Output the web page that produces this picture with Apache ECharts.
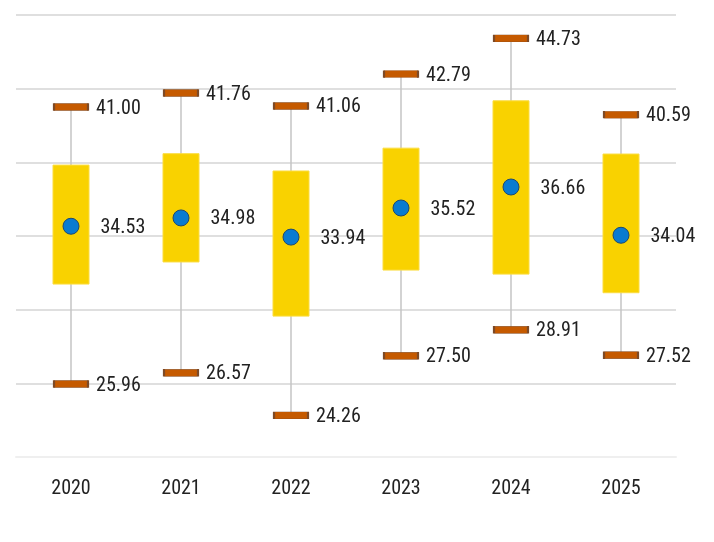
<!DOCTYPE html>
<html>
<head>
<meta charset="utf-8">
<script src="https://cdn.jsdelivr.net/npm/echarts@6/dist/echarts.min.js"></script>
<style>
html,body{margin:0;padding:0;background:#fff;}
#c{width:714px;height:542px;}
</style>
</head>
<body>
<div id="c"></div>
<script>
var categories = ['2020', '2021', '2022', '2023', '2024', '2025'];
var maxVals = [41.00, 41.76, 41.06, 42.79, 44.73, 40.59];
var minVals = [25.96, 26.57, 24.26, 27.50, 28.91, 27.52];
var meanVals = [34.53, 34.98, 33.94, 35.52, 36.66, 34.04];
var q3Vals = [37.85, 38.47, 37.53, 38.77, 41.34, 38.45];
var q1Vals = [31.39, 32.59, 29.65, 32.15, 31.93, 30.92];

var FONT = '"Liberation Sans Narrow", "Roboto Condensed", Roboto, sans-serif';
var TXT = '#222222';

var chart = echarts.init(document.getElementById('c'));

var whiskerData = categories.map(function (c, i) { return [i, minVals[i], maxVals[i]]; });
var boxData = categories.map(function (c, i) { return [i, q1Vals[i], q3Vals[i]]; });

function fmt(p) { return p.value[1].toFixed(2); }

chart.setOption({
  animation: false,
  grid: { left: 16, right: 38, top: 15, bottom: 85 },
  xAxis: {
    type: 'category',
    data: categories,
    axisLine: { show: true, lineStyle: { color: '#efefef', width: 2 } },
    axisTick: { show: false },
    axisLabel: { fontFamily: FONT, fontSize: 20, color: TXT, margin: 22 },
    splitLine: { show: false }
  },
  yAxis: {
    type: 'value',
    min: 22, max: 46, interval: 4,
    axisLine: { show: false },
    axisTick: { show: false },
    axisLabel: { show: false },
    splitLine: { show: true, lineStyle: { color: '#d4d4d4', width: 1.5 } }
  },
  series: [
    {
      type: 'custom',
      name: 'whisker',
      z: 1,
      data: whiskerData,
      renderItem: function (params, api) {
        var lo = api.coord([api.value(0), api.value(1)]);
        var hi = api.coord([api.value(0), api.value(2)]);
        return {
          type: 'line',
          shape: { x1: lo[0], y1: lo[1], x2: hi[0], y2: hi[1] },
          style: { stroke: '#c4c4c4', lineWidth: 1.5 }
        };
      }
    },
    {
      type: 'custom',
      name: 'box',
      z: 2,
      data: boxData,
      renderItem: function (params, api) {
        var lo = api.coord([api.value(0), api.value(1)]);
        var hi = api.coord([api.value(0), api.value(2)]);
        var w = 36;
        return {
          type: 'rect',
          shape: { x: lo[0] - w / 2, y: hi[1], width: w, height: lo[1] - hi[1] },
          style: { fill: '#F9D200', stroke: '#FBDD40', lineWidth: 1 }
        };
      }
    },
    {
      type: 'scatter',
      name: 'max',
      z: 3,
      symbol: 'rect',
      symbolSize: [34, 7],
      itemStyle: { color: '#C55A00', borderColor: '#7d4a26', borderWidth: 1, opacity: 1 },
      data: categories.map(function (c, i) { return [i, maxVals[i]]; }),
      label: { show: true, position: 'right', distance: 7, offset: [0, 1.5], formatter: fmt, fontFamily: FONT, fontSize: 20, color: TXT }
    },
    {
      type: 'scatter',
      name: 'min',
      z: 3,
      symbol: 'rect',
      symbolSize: [34, 7],
      itemStyle: { color: '#C55A00', borderColor: '#7d4a26', borderWidth: 1, opacity: 1 },
      data: categories.map(function (c, i) { return [i, minVals[i]]; }),
      label: { show: true, position: 'right', distance: 7, offset: [0, 1.5], formatter: fmt, fontFamily: FONT, fontSize: 20, color: TXT }
    },
    {
      type: 'scatter',
      name: 'mean',
      z: 4,
      symbol: 'circle',
      symbolSize: 16,
      itemStyle: { color: '#0A7BD0', borderColor: '#1e4a6e', borderWidth: 1, opacity: 1 },
      data: categories.map(function (c, i) { return [i, meanVals[i]]; }),
      label: { show: true, position: 'right', distance: 21, offset: [0, 1.5], formatter: fmt, fontFamily: FONT, fontSize: 20, color: TXT }
    }
  ]
});
</script>
</body>
</html>
